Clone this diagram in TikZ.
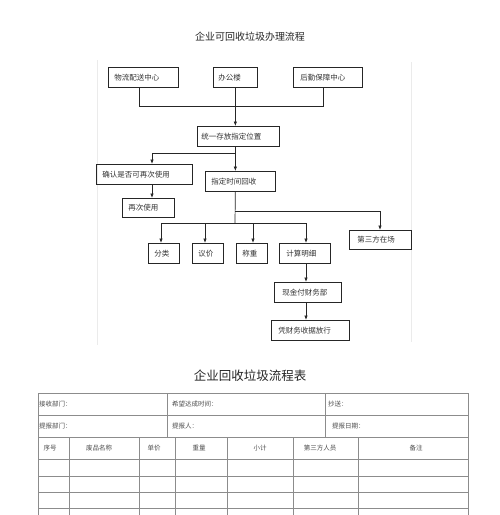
\documentclass[tikz,border=0pt]{standalone}
\usepackage{fontspec}
\setmainfont{Noto Sans CJK SC}
\usetikzlibrary{arrows.meta,calc}
\begin{document}
\begin{tikzpicture}[x=1pt,y=-1pt,
  bx/.style={draw=black!85, line width=0.7pt, anchor=north west, inner xsep=6pt, inner ysep=0pt, align=left, font=\fontsize{7.5}{9}\selectfont, text=black!80, minimum height=20pt},
  ln/.style={draw=black!85, line width=0.7pt},
  arr/.style={ln, -{Latex[length=4.5pt,width=3.5pt]}},
  tl/.style={draw=black!45, line width=0.6pt},
  tt/.style={font=\fontsize{6.5}{8}\selectfont, text=black!70, inner sep=0pt},
  pg/.style={draw=black!8, line width=0.6pt}]
\useasboundingbox (0,0) rectangle (500,515);
\fill[white] (0,0) rectangle (500,515);
% faint page edges
\draw[pg] (97,60) -- (97,345);
\draw[pg] (411,62) -- (411,342);
% titles
\node[font=\fontsize{10}{12}\selectfont, text=black!85] (title) at (250,37) {企业可回收垃圾办理流程};
\node[font=\fontsize{12.5}{14}\selectfont, text=black!85] (title2) at (250,376) {企业回收垃圾流程表};
% boxes
\node[bx, text width=58pt] (A) at (108,67) {物流配送中心};
\node[bx, text width=32pt, inner xsep=5pt, text width=34pt] (B) at (213,67) {办公楼};
\node[bx, text width=55pt, inner xsep=7pt] (C) at (293,67) {后勤保障中心};
\node[bx, text width=74pt, inner xsep=4pt] (D) at (197,126) {统一存放指定位置};
\node[bx, text width=84pt] (E) at (96,164) {确认是否可再次使用};
\node[bx, text width=40pt, minimum height=19pt] (F) at (122,198) {再次使用};
\node[bx, text width=58pt, inner xsep=6pt] (G) at (205,171) {指定时间回收};
\node[bx, text width=46pt, inner xsep=8pt, minimum height=19pt] (H) at (349,230) {第三方在场};
\node[bx, text width=19pt] (I) at (148,243) {分类};
\node[bx, text width=19pt] (J) at (192,243) {议价};
\node[bx, text width=19pt] (K) at (236,243) {称重};
\node[bx, text width=37pt, inner xsep=7pt] (L) at (279,243) {计算明细};
\node[bx, text width=51pt, inner xsep=8pt] (M) at (274,282) {现金付财务部};
\node[bx, text width=64pt, inner xsep=7pt] (N) at (271,320) {凭财务收据放行};
% connectors
\coordinate (pa) at ($(A.south west)!0.44!(A.south east)$);
\coordinate (pc) at ($(C.south west)!0.43!(C.south east)$);
\coordinate (h1) at (235,106);
\draw[ln] (pa) -- (pa |- h1) -- (pc |- h1) -- (pc);
\draw[arr] (B.south) -- (B.south |- D.north);
\draw[arr] (B.south |- D.south) -- (B.south |- G.north);
\coordinate (h2) at (152,153);
\draw[arr] (B.south |- h2) -- (h2) -- (h2 |- E.north);
\draw[arr] (h2 |- E.south) -- (h2 |- F.north);
\coordinate (h3) at (380,211);
\coordinate (h4) at (235,223);
\draw[ln] (B.south |- G.south) -- (h4);
\draw[arr] (B.south |- h3) -- (h3) -- (h3 |- H.north);
\coordinate (q1) at (161,223);
\coordinate (q2) at (205,223);
\coordinate (q3) at (253,223);
\coordinate (q4) at (306,223);
\draw[ln] (q1) -- (q4);
\draw[arr] (q1) -- (q1 |- I.north);
\draw[arr] (q2) -- (q2 |- J.north);
\draw[arr] (q3) -- (q3 |- K.north);
\draw[arr] (q4) -- (q4 |- L.north);
\draw[arr] (q4 |- L.south) -- (q4 |- M.north);
\draw[arr] (q4 |- M.south) -- (q4 |- N.north);
% table
\foreach \y in {393,415,437,459,476,492,508} \draw[tl] (38,\y) -- (468,\y);
\draw[tl] (38,393) -- (38,515);
\draw[tl] (468,393) -- (468,515);
\foreach \x in {167,325} \draw[tl] (\x,393) -- (\x,437);
\foreach \x in {69,139,175,227,293,358} \draw[tl] (\x,437) -- (\x,515);
\node[tt, anchor=west] (r1a) at (39,404) {接收部门：};
\node[tt, anchor=west] (r1b) at (172,404) {希望达成时间：};
\node[tt, anchor=west] (r1c) at (328,404) {抄送：};
\node[tt, anchor=west] (r2a) at (39,426) {提报部门：};
\node[tt, anchor=west] (r2b) at (172,426) {提报人：};
\node[tt, anchor=west] (r2c) at (332,426) {提报日期：};
\node[tt] (c1) at (50,448) {序号};
\node[tt] (c2) at (99,448) {废品名称};
\node[tt] (c3) at (154,448) {单价};
\node[tt] (c4) at (199,448) {重量};
\node[tt] (c5) at (260,448) {小计};
\node[tt] (c6) at (320,448) {第三方人员};
\node[tt] (c7) at (416,448) {备注};
\end{tikzpicture}
\end{document}
